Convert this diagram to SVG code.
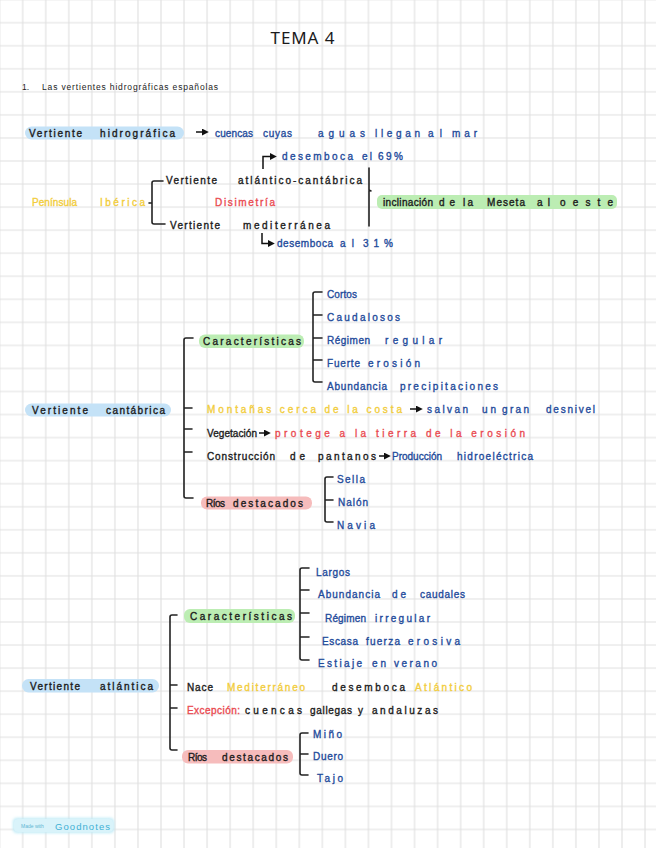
<svg xmlns="http://www.w3.org/2000/svg" width="656" height="848" viewBox="0 0 656 848">
<style>
text{font-family:"Liberation Sans",Arial,sans-serif;font-size:10px;stroke-width:0.35px;}
.k{fill:#1b1b1b;stroke:#1b1b1b}.b{fill:#1f4b9b;stroke:#1f4b9b}.y{fill:#f2cd3c;stroke:#f2cd3c}.r{fill:#ea4b52;stroke:#ea4b52}
.hb{fill:#c4e2f7}.hg{fill:#bcedb3}.hr{fill:#f6bcbc}
.br{fill:none;stroke:#222;stroke-width:1.6;stroke-linecap:round;stroke-linejoin:round}
.ar{fill:none;stroke:#111;stroke-width:1.5;marker-end:url(#ah)}
</style>
<defs>
<pattern id="grid" x="11.175" y="11.175" width="23.05" height="23.05" patternUnits="userSpaceOnUse">
<path d="M0 11.525H23.05M11.525 0V23.05" stroke="#e0e0e0" stroke-width="1.1" fill="none"/>
</pattern>
<marker id="ah" viewBox="0 0 10 10" refX="6" refY="5" markerWidth="7" markerHeight="7" orient="auto" markerUnits="userSpaceOnUse">
<path d="M0,0 L10,5 L0,10 z" fill="#111"/>
</marker>
<filter id="glow" x="-20%" y="-50%" width="140%" height="200%"><feGaussianBlur stdDeviation="1.5"/></filter>
</defs>
<rect width="656" height="848" fill="#fff"/>
<rect width="656" height="848" fill="url(#grid)"/>

<g id="title">
<text x="302.5" y="44" text-anchor="middle" style="font-family:'Noto Sans','Liberation Sans',sans-serif;font-size:17px;stroke-width:0" class="k" textLength="64">TEMA 4</text>
<text class="k" style="font-size:8.5px;stroke-width:0"><tspan x="22" y="90">1.</tspan> <tspan x="42" y="90" textLength="176">Las vertientes hidrográficas españolas</tspan></text>
</g>

<g id="connectors">
<line class="ar" x1="196" y1="132" x2="206" y2="132"/>
<path class="ar" d="M263 169V156.5H274"/>
<path class="ar" d="M262 233V243.5H272"/>
<path class="br" d="M163 181H154Q152 181 152 183V222Q152 224 154 224H165M152 203H149"/>
<path class="br" d="M369 168V226M369 190L371 191"/>
<path class="br" d="M193 338H186Q184 338 184 340V496Q184 498 186 498H193M184 408H192M184 429H192M184 452H192"/>
<path class="br" d="M322 292H315Q313 292 313 294V380Q313 382 315 382H322M313 315H322M313 338H322M313 360H322"/>
<line class="ar" x1="410" y1="409" x2="420" y2="409"/>
<line class="ar" x1="259" y1="433" x2="268" y2="433"/>
<line class="ar" x1="379" y1="456" x2="388" y2="456"/>
<path class="br" d="M333 477H327Q325 477 325 479V520Q325 522 327 522H333M325 500H333"/>
<path class="br" d="M177 615H172Q170 615 170 617V748Q170 750 172 750H177M170 685H177M170 708H177"/>
<path class="br" d="M309 568H302Q300 568 300 570V658Q300 660 302 660H309M300 590H309M300 613H309M300 637H309"/>
<path class="br" d="M308 733H302Q300 733 300 735V773Q300 775 302 775H308M300 754H308"/>
</g>

<g id="vertiente-hidrografica">
<rect class="hb" x="25" y="126.5" width="159" height="13" rx="6.5"/>
<text class="k"><tspan x="29" y="137" textLength="53">Vertiente</tspan> <tspan x="100" y="137" textLength="75">hidrográfica</tspan></text>
</g>
<g id="def-cuencas">
<text class="b"><tspan x="215" y="137" textLength="38">cuencas</tspan> <tspan x="263" y="137" textLength="29">cuyas</tspan> <tspan x="318" y="137" textLength="47">aguas</tspan> <tspan x="375" y="137" textLength="45">llegan</tspan> <tspan x="428" y="137" textLength="14">al</tspan> <tspan x="452" y="137" textLength="25">mar</tspan></text>
</g>
<g id="desemboca-69">
<text class="b"><tspan x="282" y="160" textLength="71">desemboca</tspan> <tspan x="362" y="160" textLength="10">el</tspan> <tspan x="378" y="160" textLength="25">69%</tspan></text>
</g>
<g id="peninsula-iberica">
<text class="y"><tspan x="32" y="206" textLength="45">Península</tspan> <tspan x="100" y="206" textLength="45">Ibérica</tspan></text>
</g>
<g id="vertiente-atlantico-cantabrica">
<text class="k"><tspan x="166" y="184" textLength="51">Vertiente</tspan> <tspan x="238" y="184" textLength="124">atlántico-cantábrica</tspan></text>
</g>
<g id="disimetria">
<text class="r" x="215" y="206" textLength="60">Disimetría</text>
</g>
<g id="vertiente-mediterranea">
<text class="k"><tspan x="170" y="229" textLength="50">Vertiente</tspan> <tspan x="243" y="229" textLength="87">mediterránea</tspan></text>
</g>
<g id="desemboca-31">
<text class="b"><tspan x="277" y="247" textLength="56">desemboca</tspan> <tspan x="340" y="247" textLength="14">al</tspan> <tspan x="363" y="247" textLength="30">31%</tspan></text>
</g>
<g id="inclinacion">
<rect class="hg" x="377" y="195" width="240" height="14" rx="5"/>
<text class="k"><tspan x="383" y="206" textLength="50">inclinación</tspan> <tspan x="439" y="206" textLength="16">de</tspan> <tspan x="463" y="206" textLength="10">la</tspan> <tspan x="487" y="206" textLength="38">Meseta</tspan> <tspan x="537" y="206" textLength="13">al</tspan> <tspan x="560" y="206" textLength="53">oeste</tspan></text>
</g>

<g id="vertiente-cantabrica">
<rect class="hb" x="25" y="403.5" width="146" height="13" rx="6.5"/>
<text class="k"><tspan x="32" y="414" textLength="56">Vertiente</tspan> <tspan x="106" y="414" textLength="59">cantábrica</tspan></text>
</g>
<g id="caracteristicas-1">
<rect class="hg" x="199" y="334.5" width="105" height="13.5" rx="6"/>
<text class="k" x="203" y="345" textLength="98">Características</text>
</g>
<g id="cant-items">
<text class="b" x="327" y="298" textLength="30">Cortos</text>
<text class="b" x="327" y="321" textLength="73">Caudalosos</text>
<text class="b"><tspan x="327" y="344" textLength="43">Régimen</tspan> <tspan x="385" y="344" textLength="57">regular</tspan></text>
<text class="b"><tspan x="327" y="367" textLength="33">Fuerte</tspan> <tspan x="368" y="367" textLength="52">erosión</tspan></text>
<text class="b"><tspan x="327" y="390" textLength="60">Abundancia</tspan> <tspan x="400" y="390" textLength="98">precipitaciones</tspan></text>
</g>
<g id="montanas">
<text class="y" x="207" y="413" textLength="195">Montañas cerca de la costa</text>
<text class="b"><tspan x="427" y="413" textLength="41">salvan</tspan> <tspan x="482" y="413" textLength="14">un</tspan> <tspan x="502" y="413" textLength="27">gran</tspan> <tspan x="546" y="413" textLength="49">desnivel</tspan></text>
</g>
<g id="vegetacion">
<text class="k" x="207" y="437" textLength="50">Vegetación</text>
<text class="r" x="275" y="437" textLength="250">protege a la tierra de la erosión</text>
</g>
<g id="pantanos">
<text class="k"><tspan x="207" y="460" textLength="68">Construcción</tspan> <tspan x="290" y="460" textLength="15">de</tspan> <tspan x="318" y="460" textLength="58">pantanos</tspan></text>
<text class="b"><tspan x="392" y="460" textLength="50">Producción</tspan> <tspan x="457" y="460" textLength="76">hidroeléctrica</tspan></text>
</g>
<g id="rios-cantabricos">
<rect class="hr" x="201" y="496.5" width="111" height="13" rx="6"/>
<text class="k"><tspan x="206" y="507" textLength="19">Ríos</tspan> <tspan x="233" y="507" textLength="70">destacados</tspan></text>
</g>
<g id="cant-rios">
<text class="b" x="337" y="483" textLength="28">Sella</text>
<text class="b" x="338" y="506" textLength="30">Nalón</text>
<text class="b" x="337" y="529" textLength="38">Navia</text>
</g>

<g id="vertiente-atlantica">
<rect class="hb" x="22" y="679" width="137" height="13.5" rx="6.5"/>
<text class="k"><tspan x="30" y="690" textLength="50">Vertiente</tspan> <tspan x="100" y="690" textLength="53">atlántica</tspan></text>
</g>
<g id="caracteristicas-2">
<rect class="hg" x="184" y="609" width="111" height="14" rx="6"/>
<text class="k" x="190" y="620" textLength="102">Características</text>
</g>
<g id="atl-items">
<text class="b" x="316" y="576" textLength="34">Largos</text>
<text class="b"><tspan x="318" y="598" textLength="62">Abundancia</tspan> <tspan x="392" y="598" textLength="14">de</tspan> <tspan x="420" y="598" textLength="45">caudales</tspan></text>
<text class="b"><tspan x="325" y="622" textLength="41">Régimen</tspan> <tspan x="375" y="622" textLength="55">irregular</tspan></text>
<text class="b"><tspan x="322" y="645" textLength="36">Escasa</tspan> <tspan x="366" y="645" textLength="34">fuerza</tspan> <tspan x="408" y="645" textLength="52">erosiva</tspan></text>
<text class="b"><tspan x="318" y="667" textLength="44">Estiaje</tspan> <tspan x="372" y="667" textLength="14">en</tspan> <tspan x="394" y="667" textLength="43">verano</tspan></text>
</g>
<g id="nace">
<text><tspan class="k" x="187" y="691" textLength="26">Nace</tspan> <tspan class="y" x="227" y="691" textLength="78">Mediterráneo</tspan> <tspan class="k" x="332" y="691" textLength="73">desemboca</tspan> <tspan class="y" x="415" y="691" textLength="57">Atlántico</tspan></text>
</g>
<g id="excepcion">
<text><tspan class="r" x="187" y="714" textLength="53">Excepción:</tspan> <tspan class="k" x="245" y="714" textLength="57">cuencas</tspan> <tspan class="k" x="310" y="714" textLength="42">gallegas</tspan> <tspan class="k" x="358" y="714" textLength="6">y</tspan> <tspan class="k" x="372" y="714" textLength="66">andaluzas</tspan></text>
</g>
<g id="rios-atlanticos">
<rect class="hr" x="182" y="750" width="111" height="13.5" rx="6"/>
<text class="k"><tspan x="188" y="761" textLength="19">Ríos</tspan> <tspan x="222" y="761" textLength="66">destacados</tspan></text>
</g>
<g id="atl-rios">
<text class="b" x="313" y="738" textLength="29">Miño</text>
<text class="b" x="313" y="760" textLength="30">Duero</text>
<text class="b" x="317" y="782" textLength="26">Tajo</text>
</g>

<g id="footer">
<rect x="13" y="818" width="101" height="15" rx="4" fill="#bdeaf6" filter="url(#glow)"/>
<rect x="14" y="819" width="99" height="13" rx="4" fill="#d9f3fa"/>
<text x="21" y="828" style="font-size:5px;stroke-width:0" fill="#5fb7d3">Made with</text>
<text x="55" y="829.5" style="font-size:9.5px;stroke-width:0" fill="#3fb0d5" textLength="55">Goodnotes</text>
</g>
</svg>
